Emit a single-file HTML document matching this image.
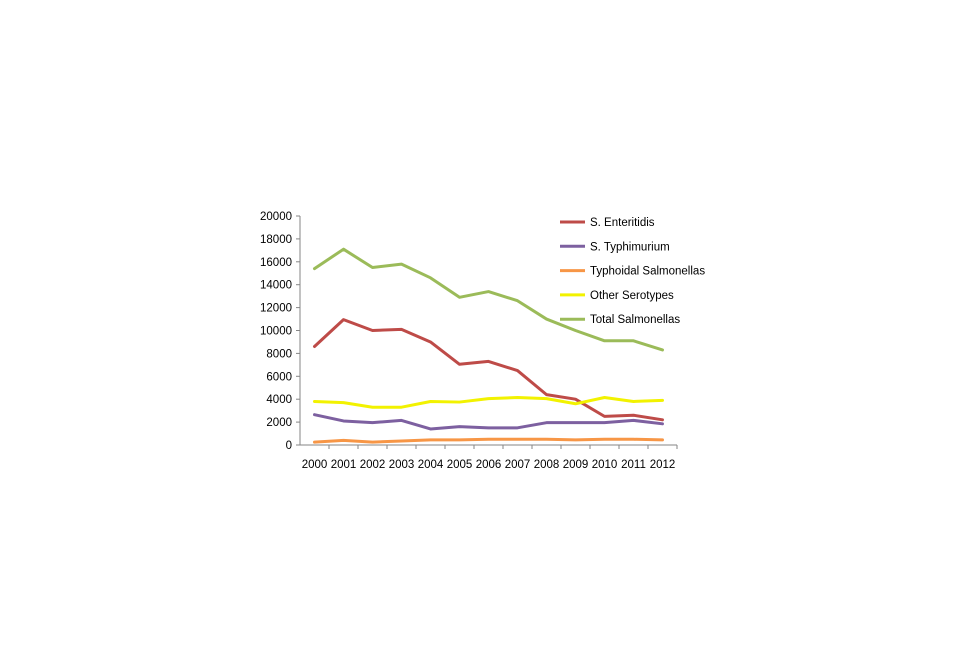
<!DOCTYPE html>
<html><head><meta charset="utf-8"><style>
body{margin:0;background:#fff;width:960px;height:640px;overflow:hidden}
svg text{font-family:"Liberation Sans",sans-serif;font-size:11.5px;fill:#000}
</style></head><body>
<svg id="chart" width="960" height="640" xmlns="http://www.w3.org/2000/svg"></svg>
<script>
const years=["2000","2001","2002","2003","2004","2005","2006","2007","2008","2009","2010","2011","2012"];
const yTicks=[0,2000,4000,6000,8000,10000,12000,14000,16000,18000,20000];
const enteritidis=[8600,10950,10000,10100,9000,7050,7300,6500,4400,4000,2500,2600,2200];
const typhimurium=[2650,2100,1950,2150,1400,1600,1500,1500,1950,1950,1950,2150,1850];
const typhoidal=[250,400,250,350,450,450,500,500,500,450,500,500,450];
const otherSerotypes=[3800,3700,3300,3300,3800,3750,4050,4150,4050,3600,4150,3800,3900];
const totalSalmonellas=[15400,17100,15500,15800,14600,12900,13400,12600,11000,10000,9100,9100,8300];
const seriesNames=["S. Enteritidis","S. Typhimurium","Typhoidal Salmonellas","Other Serotypes","Total Salmonellas"];
const NS="http://www.w3.org/2000/svg";
const svg=document.getElementById('chart');
const X0=300,X1=677,Y0=445,Y1=216,YMAX=20000;
const band=(X1-X0)/years.length;
const xs=i=>X0+band*(i+0.5);
const ys=v=>Y0-(v/YMAX)*(Y0-Y1);
function mk(tag,attrs){const e=document.createElementNS(NS,tag);for(const k in attrs)e.setAttribute(k,attrs[k]);svg.appendChild(e);return e;}
let e=mk('line',{x1:X0,y1:Y1,x2:X0,y2:Y0,stroke:'#868686','stroke-width':1});


e=mk('line',{x1:X0,y1:Y0,x2:X1,y2:Y0,stroke:'#868686','stroke-width':1});


yTicks.forEach(t=>{
  const y=ys(t);
  let tk=mk('line',{x1:X0-4,y1:y,x2:X0,y2:y,stroke:'#868686'});
  
  
  let tx=mk('text',{x:X0-8,y:y+4,'text-anchor':'end'});tx.textContent=t;
  
  
});
years.forEach((yr,i)=>{
  const bx=X0+band*(i+1);
  let tk=mk('line',{x1:bx,y1:Y0,x2:bx,y2:Y0+4,stroke:'#868686'});
  
  
  let tx=mk('text',{x:xs(i),y:Y0+23,'text-anchor':'middle'});tx.textContent=yr;
  
  
});
const allSeries=[enteritidis,typhimurium,typhoidal,otherSerotypes,totalSalmonellas];
const colors=['#be4b48','#7d60a0','#f79646','#f2f200','#9bbb59'];
const keys=['enteritidis','typhimurium','typhoidal','other-serotypes','total-salmonellas'];
allSeries.forEach((s,k)=>{
  const p=mk('polyline',{points:s.map((v,i)=>xs(i)+','+ys(v)).join(' '),fill:'none',stroke:colors[k],'stroke-width':3,'stroke-linejoin':'round','stroke-linecap':'round'});
  
  
  const ly=222+k*24.3;
  const l=mk('line',{x1:560,y1:ly,x2:585,y2:ly,stroke:colors[k],'stroke-width':3});
  
  
  const t=mk('text',{x:590,y:ly+4});t.textContent=seriesNames[k];
  
  
});
</script>
</body></html>
